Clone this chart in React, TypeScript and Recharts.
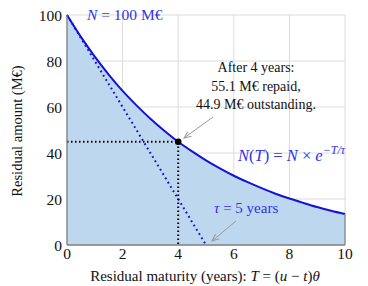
import { Area, CartesianGrid, ComposedChart, Line, Scatter, XAxis, YAxis } from "recharts";

// residual maturity T (years) and residual amount N(T) (M€)
const maturity = [0, 0.5, 1, 1.5, 2, 2.5, 3, 3.5, 4, 4.5, 5, 5.5, 6, 6.5, 7, 7.5, 8, 8.5, 9, 9.5, 10];
const outstanding = [100, 90.5, 81.9, 74.1, 67.0, 60.7, 54.9, 49.7, 44.9, 40.7, 36.8, 33.3, 30.1, 27.3, 24.7, 22.3, 20.2, 18.3, 16.5, 14.9, 13.5];

// tangent at T = 0, hits zero at tau
const tangentT = [0, 5];
const tangentN = [100, 0];

// highlighted point after 4 years
const markT = 4;
const markN = 44.9;

const xTicks = [0, 2, 4, 6, 8, 10];
const yTicks = [0, 20, 40, 60, 80, 100];

const curveData = maturity.map((t, i) => ({ T: t, N: outstanding[i] }));
const tangentData = tangentT.map((t, i) => ({ T: t, N: tangentN[i] }));
const guideData = [
  { T: 0, N: markN },
  { T: markT, N: markN },
  { T: markT, N: 0 },
];
const edgeData = [
  { T: maturity[maturity.length - 1], N: 0 },
  { T: maturity[maturity.length - 1], N: outstanding[outstanding.length - 1] },
];
const pointData = [{ T: markT, N: markN }];

const FONT = "'Liberation Serif', 'DejaVu Serif', serif";
const BLUE = "#1212d8";
const TEXT_BLUE = "#3333e8";

const Dot = (p: any) => <circle cx={p.cx} cy={p.cy} r={3.3} fill="#000" />;

export default function App() {
  return (
    <div style={{ position: "fixed", left: 0, top: 0, width: 368, height: 286, background: "#fff" }}>
      <ComposedChart
        width={368}
        height={286}
        margin={{ top: 15, right: 23, left: 0, bottom: 0 }}
        style={{ fontFamily: FONT }}
      >
        <CartesianGrid stroke="#dcdcdc" strokeWidth={1} />
        <XAxis
          dataKey="T"
          type="number"
          domain={[0, 10]}
          ticks={xTicks}
          height={41}
          tickLine={false}
          tickSize={0}
          tickMargin={3}
          stroke="#808080"
          strokeWidth={1.3}
          tick={{ fill: "#111", fontSize: 15.5, fontFamily: FONT }}
          label={{
            content: () => (
              <text x={205} y={281} textAnchor="middle" fontSize={15} fontFamily={FONT} fill="#111">
                Residual maturity (years):{" "}
                <tspan fontStyle="italic">T</tspan> = (<tspan fontStyle="italic">u</tspan> − <tspan fontStyle="italic">t</tspan>)<tspan fontStyle="italic">θ</tspan>
              </text>
            ),
          }}
        />
        <YAxis
          dataKey="N"
          type="number"
          domain={[0, 100]}
          ticks={yTicks}
          width={67}
          tickLine={false}
          tickSize={0}
          tickMargin={5}
          stroke="#808080"
          strokeWidth={1.3}
          tick={{ fill: "#111", fontSize: 15.5, fontFamily: FONT }}
          label={{
            content: () => (
              <text
                x={22}
                y={131}
                textAnchor="middle"
                fontSize={14.5}
                fontFamily={FONT}
                fill="#111"
                transform="rotate(-90 22 131)"
              >
                Residual amount (M€)
              </text>
            ),
          }}
        />
        <Area
          data={curveData}
          dataKey="N"
          type="monotone"
          fill="#bdd7ee"
          fillOpacity={1}
          stroke={BLUE}
          strokeWidth={2}
          isAnimationActive={false}
          dot={false}
          activeDot={false}
        />
        <Line
          data={edgeData}
          dataKey="N"
          stroke="#808080"
          strokeWidth={1.2}
          dot={false}
          isAnimationActive={false}
        />
        <Line
          data={tangentData}
          dataKey="N"
          stroke={BLUE}
          strokeWidth={2}
          strokeDasharray="1.8 3.2"
          dot={false}
          isAnimationActive={false}
        />
        <Line
          data={guideData}
          dataKey="N"
          stroke="#000"
          strokeWidth={2}
          strokeDasharray="1.5 2.5"
          dot={false}
          isAnimationActive={false}
        />
        <Scatter data={pointData} dataKey="N" shape={Dot} isAnimationActive={false} />
      </ComposedChart>

      <svg
        width={368}
        height={286}
        style={{ position: "absolute", left: 0, top: 0, pointerEvents: "none", fontFamily: FONT }}
      >
        <defs>
          <marker id="arr" markerWidth="8" markerHeight="8" refX="7" refY="4" orient="auto" markerUnits="userSpaceOnUse">
            <path d="M0,1 L7,4 L0,7" fill="none" stroke="#999" strokeWidth={1} />
          </marker>
        </defs>
        <text x={87} y={20} fontSize={15.5} fill={TEXT_BLUE}>
          <tspan fontStyle="italic">N</tspan> = 100 M€
        </text>
        <g fontSize={14} fill="#111" textAnchor="middle">
          <text x={256} y={72}>After 4 years:</text>
          <text x={256} y={91}>55.1 M€ repaid,</text>
          <text x={256} y={109}>44.9 M€ outstanding.</text>
        </g>
        <line x1={213} y1={117} x2={184} y2={138} stroke="#999" strokeWidth={1} markerEnd="url(#arr)" />
        <text x={238} y={161} fontSize={16.5} fill={TEXT_BLUE}>
          <tspan fontStyle="italic">N</tspan>(<tspan fontStyle="italic">T</tspan>) = <tspan fontStyle="italic">N</tspan> × <tspan fontStyle="italic">e</tspan>
          <tspan fontSize={12} dy={-7} fontStyle="italic">−T/τ</tspan>
        </text>
        <text x={214} y={213} fontSize={15} fill={TEXT_BLUE}>
          <tspan fontStyle="italic">τ</tspan> = 5 years
        </text>
        <line x1={236} y1={221} x2={212} y2={241} stroke="#999" strokeWidth={1} markerEnd="url(#arr)" />
      </svg>
    </div>
  );
}
